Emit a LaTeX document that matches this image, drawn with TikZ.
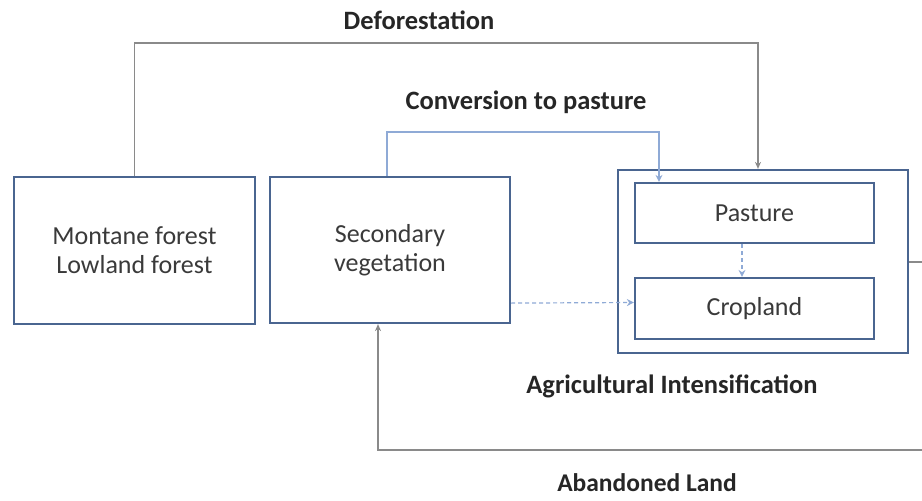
\documentclass[tikz,border=0pt]{standalone}
\usepackage{fontspec}
\setmainfont{Carlito}
\usetikzlibrary{arrows.meta,calc}
\definecolor{boxblue}{HTML}{4A6590}
\definecolor{lightblue}{HTML}{8FAAD6}
\definecolor{linegray}{HTML}{8A8A8A}
\definecolor{txt}{HTML}{3A3A3A}
\tikzset{
  boxnode/.style={draw=boxblue, line width=2.2pt, fill=white, inner sep=0pt, text=txt, font=\fontsize{26}{29}\selectfont, align=center},
  lbl/.style={text=black!85, font=\fontsize{26.5}{30}\selectfont\bfseries},
  grayarrow/.style={draw=linegray, line width=1.6pt, -{Stealth[length=7pt,width=6pt]}},
  bluearrow/.style={draw=lightblue, line width=1.2pt, -{Stealth[open,length=7pt,width=7pt]}},
  dasharrow/.style={draw=lightblue, line width=1.2pt, dash pattern=on 4pt off 3pt, -{Stealth[open,length=7pt,width=7pt]}}
}
\begin{document}
\begin{tikzpicture}[x=1pt,y=-1pt]
\useasboundingbox[fill=white] (0,0) rectangle (922,501);
% nodes
\node[boxnode, minimum width=241pt, minimum height=147pt] (forest) at (134.5,250.5) {Montane forest\\Lowland forest};
\node[boxnode, minimum width=240pt, minimum height=146pt] (second) at (390,250) {Secondary\\vegetation};
\node[boxnode, minimum width=290pt, minimum height=183pt] (outer) at (763,261.5) {};
\node[boxnode, minimum width=239pt, minimum height=60pt] (pasture) at (754.5,213) {Pasture};
\node[boxnode, minimum width=239pt, minimum height=61pt] (crop) at (754.5,308.5) {Cropland};
% labels
\node[lbl] (ldefo) at (419,20) {Deforestation};
\node[lbl] (lconv) at (526,102) {Conversion to pasture};
\node[lbl] (lagri) at (672,386) {Agricultural Intensification};
\node[lbl, inner sep=0pt, font=\fontsize{25.5}{30}\selectfont\bfseries] (laban) at (647,483) {Abandoned Land};
% coordinates
\coordinate (defo) at (758,43);
\coordinate (conv) at (659,132);
\coordinate (abR) at (945,262);
\coordinate (abB) at (945,450);
\coordinate (abL) at (378,450);
% connectors
\draw[grayarrow] (forest.north) |- (defo) -- (defo |- outer.north);
\draw[bluearrow] (second.north) ++(-3,0) |- (conv) -- (conv |- pasture.north);
\draw[dasharrow] ($(second.south east)+(0,-21)$) -- ($(crop.west)+(0,-6)$);
\draw[dasharrow] ([xshift=-12.5pt]pasture.south) -- ([xshift=-12.5pt]crop.north);
\draw[grayarrow] (outer.east |- abR) -- (abR) -- (abB) -- (abL) -- (abL |- second.south);
\end{tikzpicture}
\end{document}
